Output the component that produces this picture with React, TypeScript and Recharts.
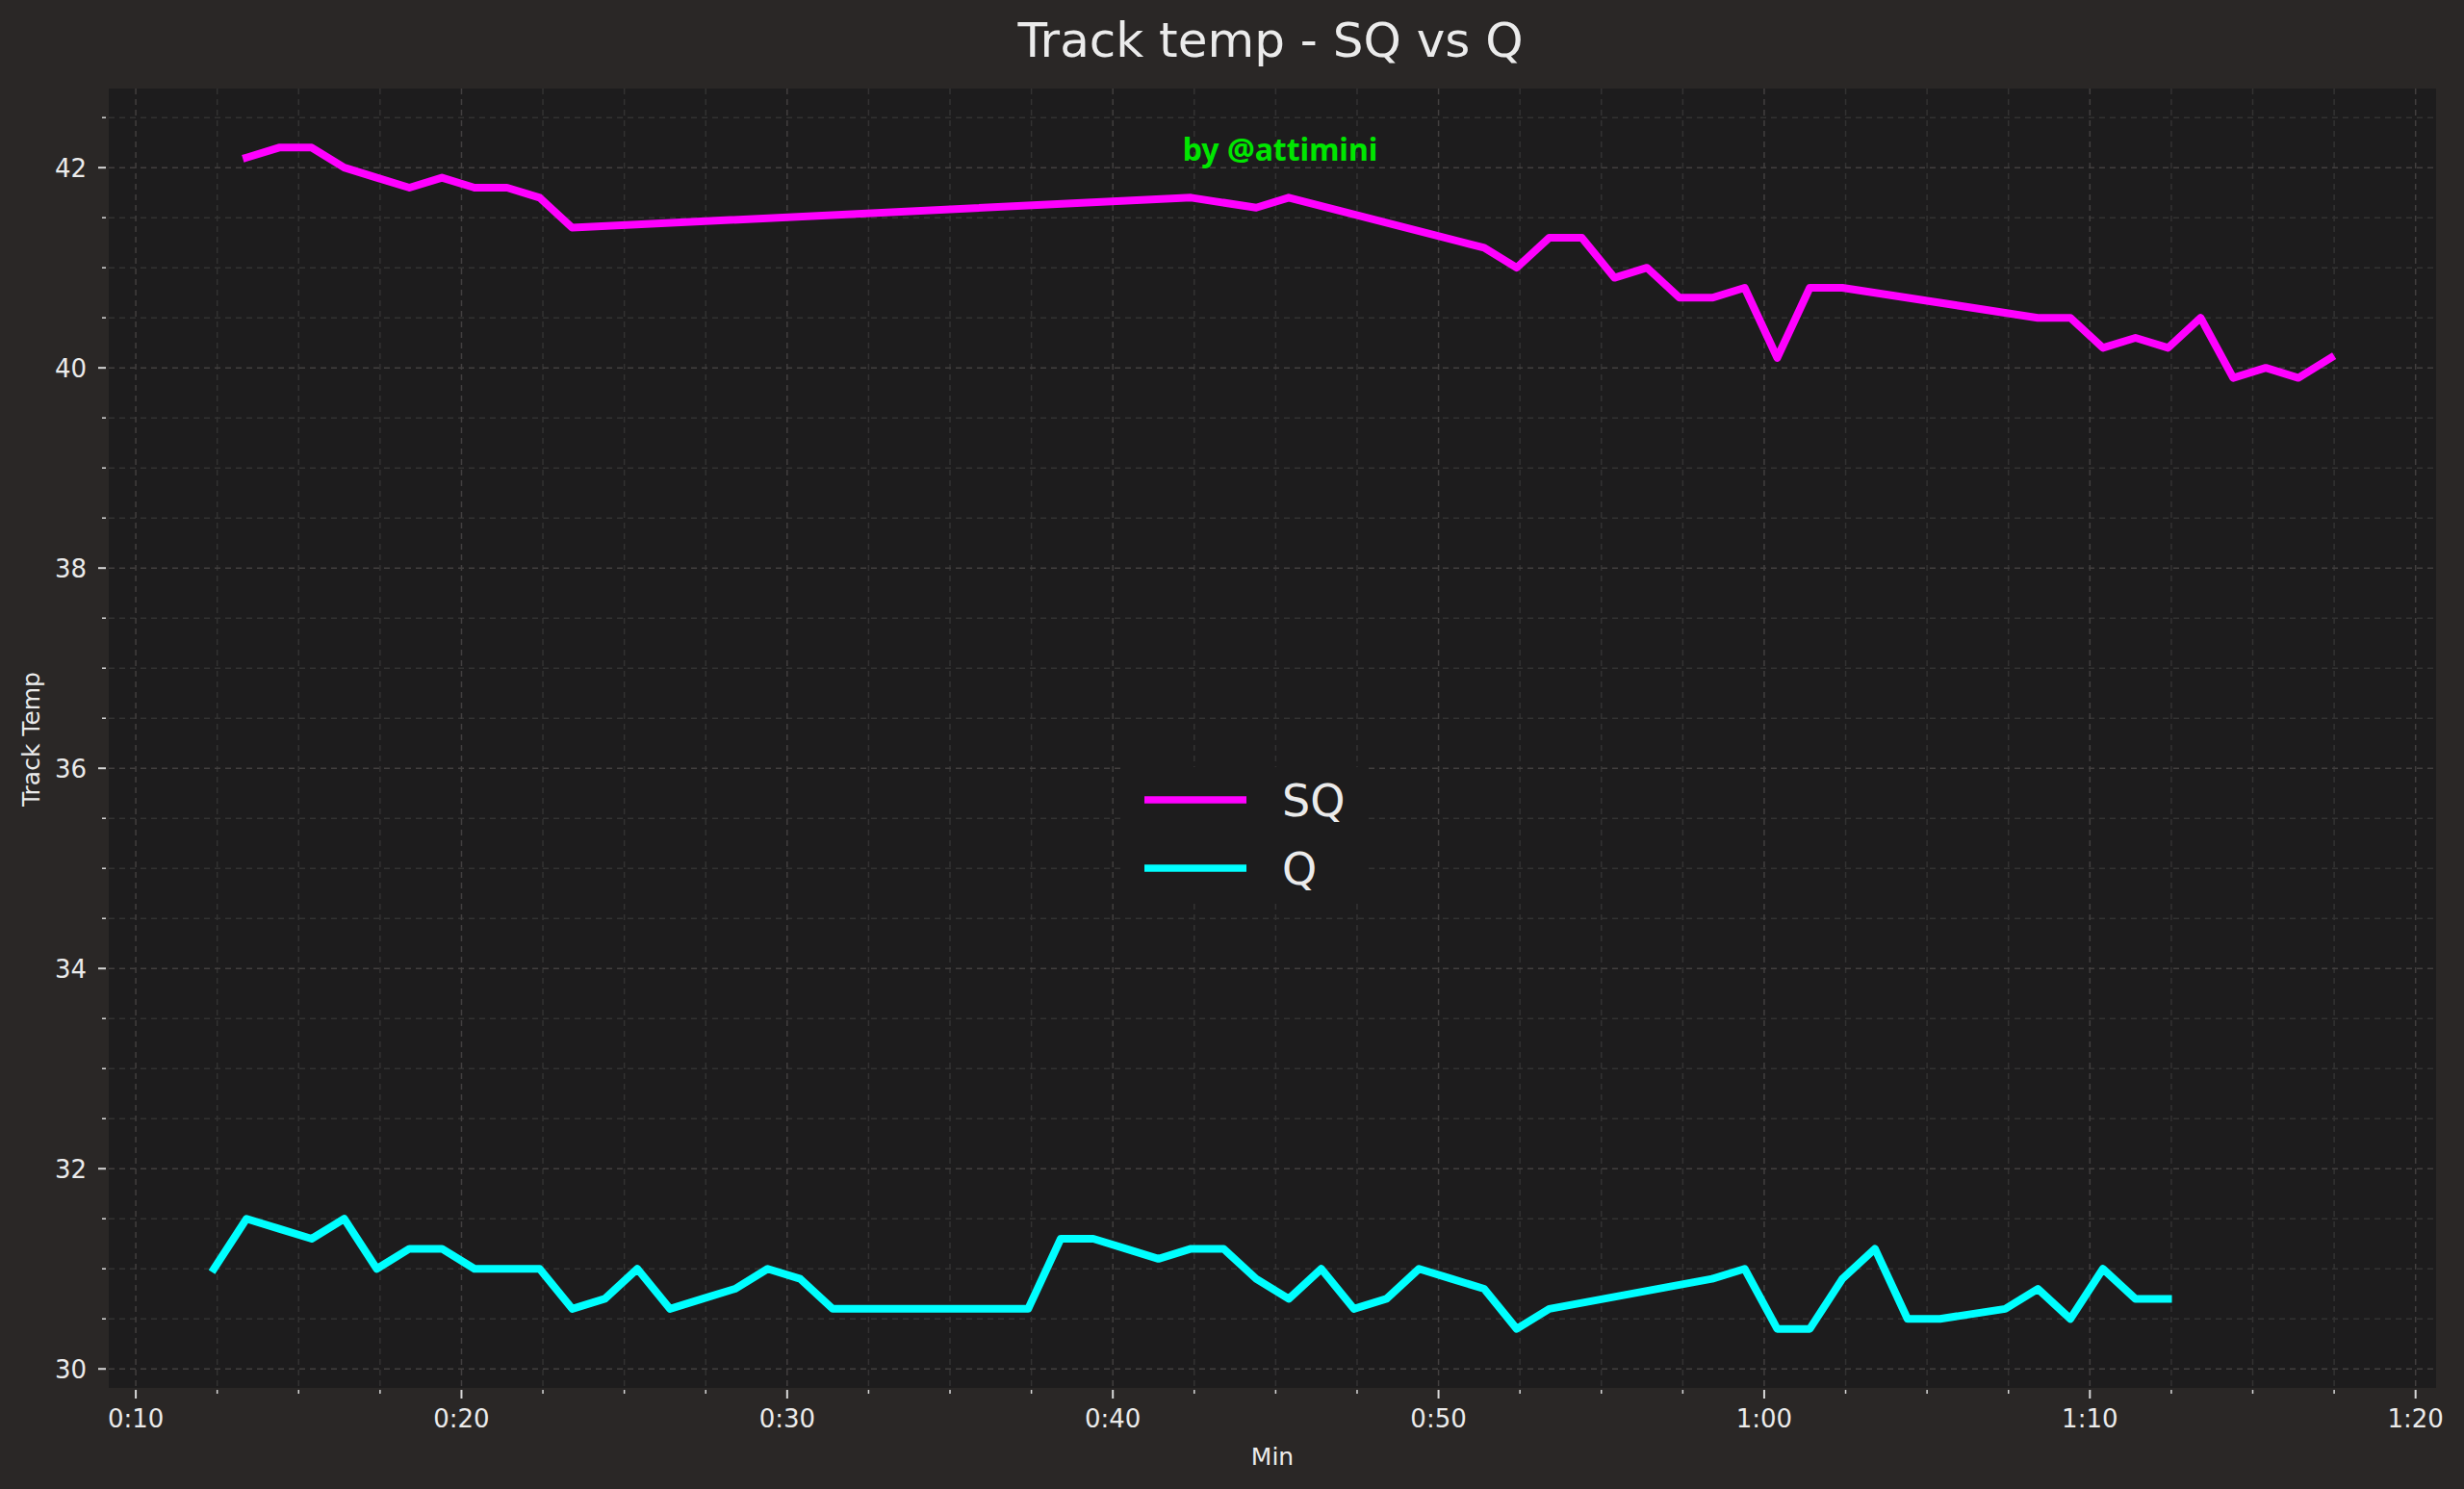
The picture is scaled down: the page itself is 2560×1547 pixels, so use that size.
import React from 'react'
import { LineChart, Line, XAxis, YAxis, CartesianGrid, Legend } from 'recharts'

// minutes into the session (x) and track temperature (y)
const SQ_MIN = [
  13.4, 14.4, 15.4, 16.4, 17.4, 18.4, 19.4, 20.4, 21.4, 22.4, 23.4,
  42.4, 44.4, 45.4, 51.4, 52.4, 53.4, 54.4, 55.4, 56.4, 57.4, 58.4, 59.4,
  60.4, 61.4, 62.4, 68.4, 69.4, 70.4, 71.4, 72.4, 73.4, 74.4, 75.4, 76.4, 77.4,
]
const SQ_TEMP = [
  42.1, 42.2, 42.2, 42.0, 41.9, 41.8, 41.9, 41.8, 41.8, 41.7, 41.4,
  41.7, 41.6, 41.7, 41.2, 41.0, 41.3, 41.3, 40.9, 41.0, 40.7, 40.7, 40.8,
  40.1, 40.8, 40.8, 40.5, 40.5, 40.2, 40.3, 40.2, 40.5, 39.9, 40.0, 39.9, 40.1,
]

const Q_MIN = [
  12.4, 13.4, 14.4, 15.4, 16.4, 17.4, 18.4, 19.4, 20.4, 21.4, 22.4, 23.4,
  24.4, 25.4, 26.4, 27.4, 28.4, 29.4, 30.4, 31.4, 37.4, 38.4, 39.4, 40.4,
  41.4, 42.4, 43.4, 44.4, 45.4, 46.4, 47.4, 48.4, 49.4, 50.4, 51.4, 52.4,
  53.4, 58.4, 59.4, 60.4, 61.4, 62.4, 63.4, 64.4, 65.4, 67.4, 68.4, 69.4,
  70.4, 71.4, 72.4,
]
const Q_TEMP = [
  31.0, 31.5, 31.4, 31.3, 31.5, 31.0, 31.2, 31.2, 31.0, 31.0, 31.0, 30.6,
  30.7, 31.0, 30.6, 30.7, 30.8, 31.0, 30.9, 30.6, 30.6, 31.3, 31.3, 31.2,
  31.1, 31.2, 31.2, 30.9, 30.7, 31.0, 30.6, 30.7, 31.0, 30.9, 30.8, 30.4,
  30.6, 30.9, 31.0, 30.4, 30.4, 30.9, 31.2, 30.5, 30.5, 30.6, 30.8, 30.5,
  31.0, 30.7, 30.7,
]

const SERIES = ['SQ', 'Q']

const X_TICKS = [
  10, 12.5, 15, 17.5, 20, 22.5, 25, 27.5, 30, 32.5, 35, 37.5, 40, 42.5, 45,
  47.5, 50, 52.5, 55, 57.5, 60, 62.5, 65, 67.5, 70, 72.5, 75, 77.5, 80,
]
const X_MAJOR = [10, 20, 30, 40, 50, 60, 70, 80]
const X_LABELS = ['0:10', '0:20', '0:30', '0:40', '0:50', '1:00', '1:10', '1:20']
const X_MINOR = X_TICKS.filter((t) => !X_MAJOR.includes(t))

const Y_TICKS = [
  30, 30.5, 31, 31.5, 32, 32.5, 33, 33.5, 34, 34.5, 35, 35.5, 36, 36.5,
  37, 37.5, 38, 38.5, 39, 39.5, 40, 40.5, 41, 41.5, 42, 42.5,
]
const Y_MAJOR = [30, 32, 34, 36, 38, 40, 42]
const Y_MINOR = Y_TICKS.filter((t) => !Y_MAJOR.includes(t))

const sqData = SQ_MIN.map((t, i) => ({ t, v: SQ_TEMP[i] }))
const qData = Q_MIN.map((t, i) => ({ t, v: Q_TEMP[i] }))

const W = 2560
const H = 1547
const PAGE_BG = '#2a2726'
const PLOT_BG = '#1d1c1d'
const TEXT = '#ebebeb'
const FONT = '"DejaVu Sans", sans-serif'

function XTick({ x, y, payload }: any) {
  const i = X_MAJOR.indexOf(payload.value)
  const major = i >= 0
  return (
    <g>
      <line x1={x} x2={x} y1={y + 2} y2={y + (major ? 11 : 6)} stroke="#d8d8d8" strokeWidth={major ? 2 : 1.5} />
      {major && (
        <text x={x} y={y + 41} textAnchor="middle" fill={TEXT} fontSize={26} fontFamily={FONT}>
          {X_LABELS[i]}
        </text>
      )}
    </g>
  )
}

function YTick({ x, y, payload }: any) {
  const major = Y_MAJOR.includes(payload.value)
  return (
    <g>
      <line x1={x - (major ? 11 : 7)} x2={x - 3} y1={y} y2={y} stroke="#d8d8d8" strokeWidth={major ? 2 : 1.5} />
      {major && (
        <text x={x - 23} y={y} dy={9.5} textAnchor="end" fill={TEXT} fontSize={26} fontFamily={FONT}>
          {payload.value}
        </text>
      )}
    </g>
  )
}

function LegendBox({ payload }: any) {
  const items = [...(payload || [])].sort(
    (a: any, b: any) => SERIES.indexOf(a.value) - SERIES.indexOf(b.value)
  )
  return (
    <svg width={252} height={140} style={{ display: 'block', background: PLOT_BG }}>
      {items.map((entry: any, i: number) => (
        <g key={entry.value}>
          <line x1={21} x2={127} y1={34 + i * 71} y2={34 + i * 71} stroke={entry.color} strokeWidth={7.5} />
          <text x={164} y={34 + i * 71} dy={17} fill={TEXT} fontSize={46} fontFamily={FONT}>
            {entry.value}
          </text>
        </g>
      ))}
    </svg>
  )
}

export default function App() {
  return (
    <div style={{ position: 'absolute', left: 0, top: 0, width: W, height: H, background: PAGE_BG }}>
      <LineChart width={W} height={H} margin={{ top: 92, right: 29, bottom: 0, left: 0 }}>
        <CartesianGrid
          fill={PLOT_BG}
          stroke="#333232"
          strokeWidth={1.5}
          strokeDasharray="6 5"
          verticalValues={X_MINOR}
          horizontalValues={Y_MINOR}
        />
        <CartesianGrid
          fill="none"
          stroke="#423f3f"
          strokeWidth={1.5}
          strokeDasharray="6 5"
          verticalValues={X_MAJOR}
          horizontalValues={Y_MAJOR}
        />
        <XAxis
          dataKey="t"
          type="number"
          domain={[9.17, 80.63]}
          ticks={X_TICKS}
          interval={0}
          allowDataOverflow
          height={105}
          tickSize={0}
          tickMargin={0}
          tickLine={false}
          axisLine={false}
          tick={<XTick />}
        />
        <YAxis
          type="number"
          domain={[29.81, 42.79]}
          ticks={Y_TICKS}
          interval={0}
          allowDataOverflow
          width={113}
          tickSize={0}
          tickMargin={0}
          tickLine={false}
          axisLine={false}
          tick={<YTick />}
        />
        <Legend
          layout="vertical"
          align="center"
          verticalAlign="middle"
          wrapperStyle={{ left: 1168, top: 797, width: 252, height: 140 }}
          content={(props: any) => <LegendBox payload={props.payload} />}
        />
        <Line
          name="SQ"
          data={sqData}
          dataKey="v"
          type="linear"
          stroke="#ff00ff"
          strokeWidth={8}
          strokeLinejoin="round"
          strokeLinecap="square"
          dot={false}
          activeDot={false}
          isAnimationActive={false}
        />
        <Line
          name="Q"
          data={qData}
          dataKey="v"
          type="linear"
          stroke="#00ffff"
          strokeWidth={8}
          strokeLinejoin="round"
          strokeLinecap="square"
          dot={false}
          activeDot={false}
          isAnimationActive={false}
        />
      </LineChart>
      <svg width={W} height={H} style={{ position: 'absolute', left: 0, top: 0, pointerEvents: 'none' }}>
        <text x={1320} y={59} textAnchor="middle" fill={TEXT} fontSize={50} fontFamily={FONT}>
          Track temp - SQ vs Q
        </text>
        <text x={1330} y={167} textAnchor="middle" fill="#00e600" fontSize={32} fontWeight="bold" fontFamily='"Noto Sans", sans-serif'>
          by @attimini
        </text>
        <text x={1322} y={1522} textAnchor="middle" fill={TEXT} fontSize={25} fontFamily={FONT}>
          Min
        </text>
        <text x={41} y={768} transform="rotate(-90 41 768)" textAnchor="middle" fill={TEXT} fontSize={25} fontFamily={FONT}>
          Track Temp
        </text>
      </svg>
    </div>
  )
}
